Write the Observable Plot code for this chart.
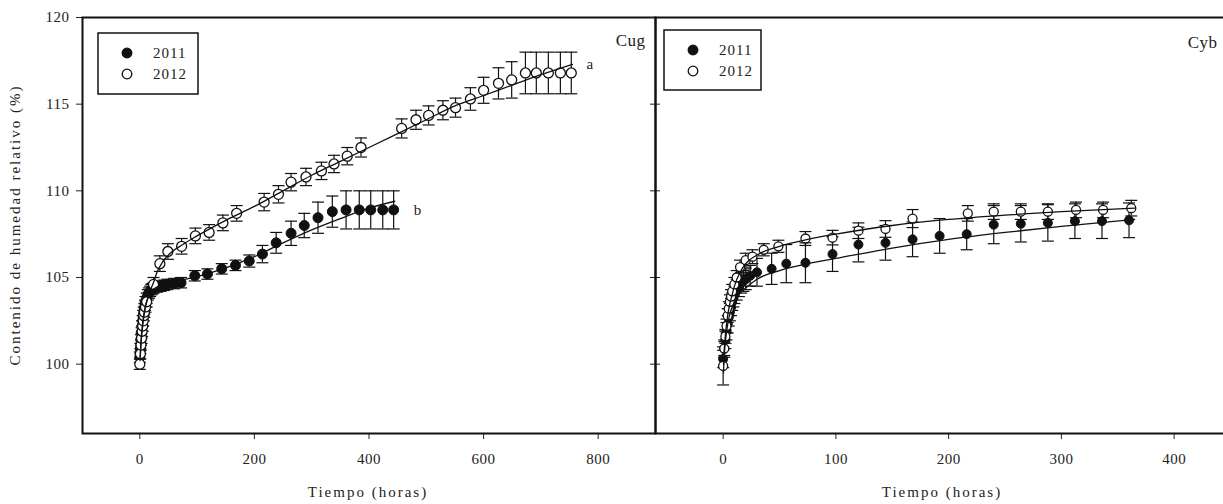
<!DOCTYPE html>
<html><head><meta charset="utf-8">
<script src="https://cdn.jsdelivr.net/npm/d3@7"></script>
<script src="https://cdn.jsdelivr.net/npm/@observablehq/plot@0.6"></script>
<style>
html,body{margin:0;padding:0;background:#fff;}
#wrap{position:relative;width:1223px;height:504px;overflow:hidden;font-family:"Liberation Serif",serif;color:#222;}
.panel{position:absolute;top:0;}
.legend{position:absolute;}
.lab{position:absolute;font-family:"Liberation Serif",serif;color:#222;font-size:15px;letter-spacing:2px;text-align:center;line-height:18px;height:18px;white-space:nowrap;}
</style></head><body><div id="wrap"></div>
<script>
// ---- data ----
const years = ["2011", "2012"];
const panelNames = ["Cug", "Cyb"];
const groupLetters = ["b", "a"];
const xLabel = "Tiempo (horas)";
const yLabel = "Contenido de humedad relativo (%)";
const yTicks = [100, 105, 110, 115, 120];
const cugXTicks = [0, 200, 400, 600, 800];
const cybXTicks = [0, 100, 200, 300, 400];

// Cug 2011 (filled)
const cugT2011 = [0,1,2,3,4,5,6,7,8,9,10,12,14,16,18,20,22,24,30,36,42,48,60,72,96,118,143,167,191,214,238,264,287,311,336,360,383,403,424,443];
const cugV2011 = [100.4,100.9,101.4,101.8,102.2,102.5,102.8,103.0,103.2,103.4,103.6,103.8,104.0,104.1,104.2,104.3,104.35,104.4,104.45,104.5,104.55,104.6,104.65,104.7,105.1,105.2,105.5,105.7,105.95,106.35,107.0,107.55,108.0,108.45,108.8,108.9,108.9,108.9,108.9,108.9];
const cugE2011 = [0.3,0.3,0.3,0.3,0.3,0.3,0.3,0.3,0.3,0.3,0.3,0.3,0.3,0.3,0.3,0.3,0.3,0.3,0.3,0.3,0.3,0.3,0.3,0.3,0.3,0.3,0.3,0.3,0.35,0.5,0.6,0.7,0.7,0.9,0.9,1.1,1.1,1.1,1.1,1.1];
// Cug 2012 (open)
const cugT2012 = [0,1,2,3,4,5,6,7,8,10,12,24,35,49,73,97,121,145,169,217,242,264,290,317,339,362,386,457,482,504,529,551,577,600,626,649,673,692,713,734,753];
const cugV2012 = [100.0,100.6,101.1,101.5,101.9,102.2,102.5,102.8,103.0,103.3,103.6,104.6,105.8,106.5,106.8,107.4,107.6,108.15,108.7,109.35,109.8,110.5,110.8,111.15,111.55,112.0,112.5,113.6,114.1,114.35,114.65,114.8,115.3,115.8,116.2,116.4,116.8,116.8,116.8,116.8,116.8];
const cugE2012 = [0.3,0.3,0.3,0.3,0.3,0.3,0.3,0.3,0.3,0.3,0.3,0.4,0.45,0.45,0.45,0.45,0.45,0.45,0.45,0.5,0.5,0.5,0.5,0.5,0.5,0.5,0.55,0.55,0.55,0.55,0.55,0.55,0.65,0.75,0.9,1.05,1.2,1.2,1.2,1.2,1.2];
// Cug fitted curves
const cugFitT2011 = [0.5,2,5,10,15,20,30,40,60,80,100,150,200,250,300,350,400,445];
const cugFitV2011 = [100.4,101.3,102.4,103.4,103.9,104.2,104.45,104.6,104.75,104.9,105.05,105.55,106.2,107.0,107.75,108.4,109.0,109.4];
const cugFitT2012 = [0.5,2,5,10,15,20,25,30,40,50,75,100,150,200,250,300,350,400,450,500,550,600,650,700,755];
const cugFitV2012 = [100.2,101.1,102.2,103.3,103.9,104.4,104.8,105.3,105.9,106.3,106.9,107.4,108.3,109.1,110.0,110.9,111.7,112.5,113.3,114.1,114.9,115.5,116.1,116.7,117.3];

// Cyb 2011 (filled)
const cybT2011 = [0,1,2,3,4,5,6,7,8,9,10,12,14,16,18,20,24,30,43,56,73,97,120,144,168,192,216,240,264,288,312,336,360];
const cybV2011 = [100.3,100.9,101.4,101.9,102.3,102.7,103.0,103.3,103.6,103.8,104.0,104.3,104.5,104.7,104.8,104.9,105.1,105.3,105.5,105.8,105.85,106.35,106.9,107.0,107.2,107.4,107.5,108.05,108.1,108.15,108.25,108.25,108.3];
const cybE2011 = [0.5,0.5,0.5,0.5,0.5,0.5,0.5,0.5,0.5,0.5,0.5,0.6,0.6,0.6,0.6,0.6,0.6,0.8,0.9,1.1,1.15,1.0,1.0,1.0,1.0,1.0,0.9,1.1,1.05,1.05,1.0,1.0,1.0];
// Cyb 2012 (open)
const cybT2012 = [0,1,2,3,4,5,6,7,8,10,12,15,20,26,36,49,73,97,120,144,168,217,240,264,288,313,337,362];
const cybV2012 = [99.9,100.9,101.6,102.2,102.8,103.2,103.6,103.9,104.2,104.6,105.0,105.6,106.0,106.2,106.6,106.8,107.25,107.3,107.7,107.8,108.4,108.7,108.8,108.8,108.8,108.9,108.9,109.0];
const cybE2012 = [1.1,0.4,0.4,0.4,0.4,0.4,0.4,0.4,0.4,0.4,0.4,0.4,0.4,0.4,0.35,0.35,0.4,0.42,0.45,0.48,0.52,0.45,0.45,0.45,0.45,0.45,0.45,0.45];
// Cyb fitted curves
const cybFitT2011 = [0.3,1,2,4,6,8,10,15,20,30,50,75,100,150,200,250,300,365];
const cybFitV2011 = [99.5,100.5,101.3,102.3,102.9,103.3,103.6,104.1,104.4,104.9,105.4,105.8,106.1,106.7,107.2,107.6,107.95,108.35];
const cybFitT2012 = [0.3,1,2,4,6,8,10,15,20,30,50,75,100,150,200,250,300,365];
const cybFitV2012 = [100.0,100.9,101.7,102.8,103.5,104.0,104.5,105.3,105.8,106.3,106.8,107.2,107.5,108.0,108.35,108.6,108.8,109.0];

// ---- helpers ----
const ink = "#111";
const capSymbol = {draw(ctx) { ctx.moveTo(-6, 0); ctx.lineTo(6, 0); }};
const series = (t, v, e) => t.map((x, i) => ({t: x, v: v[i], e: e[i]}));
const curve = (t, v) => t.map((x, i) => ({t: x, v: v[i]}));

function dataMarks(s11, s12, f11, f12, r) {
  const m = [];
  for (const s of [s11, s12]) {
    m.push(Plot.ruleX(s, {x: "t", y1: d => d.v - d.e, y2: d => d.v + d.e, stroke: ink, strokeWidth: 1.2}));
    m.push(Plot.dot(s, {x: "t", y: d => d.v + d.e, symbol: capSymbol, fill: "none", stroke: ink, strokeWidth: 1.2}));
    m.push(Plot.dot(s, {x: "t", y: d => d.v - d.e, symbol: capSymbol, fill: "none", stroke: ink, strokeWidth: 1.2}));
  }
  m.push(Plot.dot(s11, {x: "t", y: "v", r, fill: ink, stroke: ink, strokeWidth: 1}));
  m.push(Plot.dot(s12, {x: "t", y: "v", r, fill: "white", stroke: ink, strokeWidth: 1.3}));
  m.push(Plot.line(f11, {x: "t", y: "v", curve: "monotone-x", stroke: ink, strokeWidth: 1.3}));
  m.push(Plot.line(f12, {x: "t", y: "v", curve: "monotone-x", stroke: ink, strokeWidth: 1.3}));
  return m;
}

const baseStyle = {fontFamily: "Liberation Serif", fontSize: "15px", letterSpacing: "0.5px", color: "#222",
  background: "transparent", overflow: "visible", maxWidth: "none"};

const cug11 = series(cugT2011, cugV2011, cugE2011);
const cug12 = series(cugT2012, cugV2012, cugE2012);
const cugF11 = curve(cugFitT2011, cugFitV2011);
const cugF12 = curve(cugFitT2012, cugFitV2012);

const left = Plot.plot({
  width: 656, height: 504, marginLeft: 82, marginRight: 1, marginTop: 17, marginBottom: 71,
  style: baseStyle,
  x: {domain: [-100, 900]},
  y: {domain: [96, 120]},
  marks: [
    Plot.axisX({ticks: cugXTicks, tickSize: 6, tickPadding: 14, label: null}),
    Plot.axisY({ticks: yTicks, tickSize: 6, tickPadding: 7, label: null}),
    ...dataMarks(cug11, cug12, cugF11, cugF12, 5),
    Plot.frame({stroke: ink, strokeWidth: 2}),
    Plot.text([panelNames[0]], {frameAnchor: "top-right", dx: -10, dy: 16, fontSize: 17}),
    Plot.text([cugF12[cugF12.length - 1]], {x: "t", y: "v", text: () => groupLetters[1], dx: 14, textAnchor: "start", fontSize: 15}),
    Plot.text([cug11[cug11.length - 1]], {x: "t", y: "v", text: () => groupLetters[0], dx: 20, textAnchor: "start", fontSize: 15})
  ]
});

const cyb11 = series(cybT2011, cybV2011, cybE2011);
const cyb12 = series(cybT2012, cybV2012, cybE2012);
const cybF11 = curve(cybFitT2011, cybFitV2011);
const cybF12 = curve(cybFitT2012, cybFitV2012);

const right = Plot.plot({
  width: 590, height: 504, marginLeft: 15, marginRight: 0, marginTop: 17, marginBottom: 71,
  style: baseStyle,
  x: {domain: [-60, 450]},
  y: {domain: [96, 120]},
  marks: [
    Plot.axisX({ticks: cybXTicks, tickSize: 6, tickPadding: 14, label: null}),
    Plot.axisY({ticks: yTicks, tickSize: 10, dx: 5, tickFormat: () => "", label: null}),
    ...dataMarks(cyb11, cyb12, cybF11, cybF12, 4.5),
    Plot.frame({stroke: ink, strokeWidth: 2}),
    Plot.text([panelNames[1]], {frameAnchor: "top-right", dx: -13, dy: 18, fontSize: 17})
  ]
});

const wrap = document.getElementById("wrap");
function place(node, x, w) {
  const d = document.createElement("div");
  d.className = "panel";
  d.style.left = x + "px";
  d.style.width = w + "px";
  d.appendChild(node);
  wrap.appendChild(d);
}
place(left, 0, 656);
place(right, 640, 590);

// legends
function legend(x, y, w, h) {
  const styles = [{fill: ink}, {fill: "white"}];
  const ns = "http://www.w3.org/2000/svg";
  const svg = document.createElementNS(ns, "svg");
  svg.setAttribute("width", w); svg.setAttribute("height", h);
  const rect = document.createElementNS(ns, "rect");
  rect.setAttribute("x", 1); rect.setAttribute("y", 1);
  rect.setAttribute("width", w - 2); rect.setAttribute("height", h - 2);
  rect.setAttribute("fill", "white"); rect.setAttribute("stroke", ink); rect.setAttribute("stroke-width", 1.5);
  svg.appendChild(rect);
  years.forEach((yr, i) => {
    const c = document.createElementNS(ns, "circle");
    c.setAttribute("cx", 30); c.setAttribute("cy", 21 + i * 21); c.setAttribute("r", 4.8);
    c.setAttribute("fill", styles[i].fill); c.setAttribute("stroke", ink); c.setAttribute("stroke-width", 1.3);
    svg.appendChild(c);
    const t = document.createElementNS(ns, "text");
    t.setAttribute("x", 56); t.setAttribute("y", 21 + i * 21);
    t.setAttribute("dominant-baseline", "central");
    t.setAttribute("font-family", "Liberation Serif"); t.setAttribute("font-size", 15);
    t.setAttribute("letter-spacing", "1px"); t.setAttribute("fill", "#222");
    t.textContent = yr;
    svg.appendChild(t);
  });
  const d = document.createElement("div");
  d.className = "legend";
  d.style.left = x + "px"; d.style.top = y + "px";
  d.appendChild(svg);
  wrap.appendChild(d);
}
legend(97, 32, 102, 63);
legend(663, 29, 99, 62);

// axis titles
function label(text, x, y, w, rot) {
  const d = document.createElement("div");
  d.className = "lab";
  d.textContent = text;
  d.style.left = (x - w / 2) + "px";
  d.style.top = (y - 9) + "px";
  d.style.width = w + "px";
  if (rot) d.style.transform = "rotate(-90deg)";
  wrap.appendChild(d);
}
label(xLabel, 368, 492, 300, false);
label(xLabel, 942, 492, 300, false);
label(yLabel, 15, 225, 400, true);
</script></body></html>
